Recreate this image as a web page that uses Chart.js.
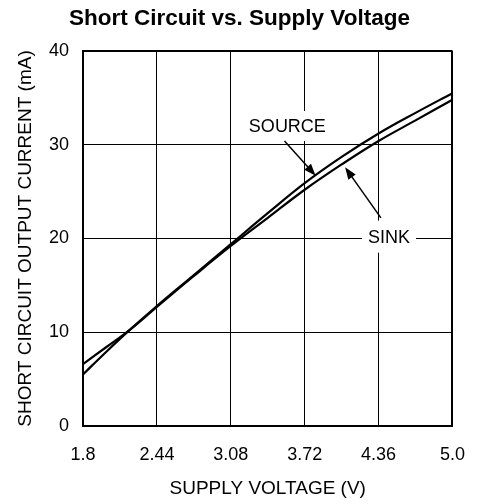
<!DOCTYPE html>
<html>
<head>
<meta charset="utf-8">
<script src="https://cdn.jsdelivr.net/npm/chart.js@4/dist/chart.umd.min.js"></script>
<style>
html,body{margin:0;padding:0;background:#fff;}
#wrap{width:483px;height:504px;}
</style>
</head>
<body>
<div id="wrap"><canvas id="c" width="483" height="504"></canvas></div>
<script>
const voltages = [1.8, 2.0, 2.2, 2.44, 2.76, 3.08, 3.4, 3.72, 4.04, 4.36, 4.68, 5.0];
const sourceCurrent = [5.5, 7.9, 10.2, 12.8, 16.1, 19.4, 22.7, 25.9, 28.7, 31.2, 33.4, 35.5];
const sinkCurrent   = [6.6, 8.4, 10.2, 12.7, 16.0, 19.2, 22.2, 25.2, 27.9, 30.4, 32.6, 34.8];
const xTickValues = [1.8, 2.44, 3.08, 3.72, 4.36, 5.0];
const xTickLabels = ["1.8", "2.44", "3.08", "3.72", "4.36", "5.0"];
const yTickValues = [0, 10, 20, 30, 40];
const yTickLabels = ["0", "10", "20", "30", "40"];

const FONT = "'Liberation Sans', Arial, Helvetica, sans-serif";

const annotations = [
  {text: "SOURCE", x: 3.57, y: 32.0, box: {w: 90, h: 30}, arrow: {from: [3.545, 30.4], to: [3.815, 26.7]}},
  {text: "SINK", x: 4.45, y: 20.2, box: {w: 54, h: 32}, arrow: {from: [4.38, 22.2], to: [4.07, 27.6]}}
];

const annoPlugin = {
  id: 'annoPlugin',
  beforeDatasetsDraw(chart) {
    const {ctx, scales: {x, y}} = chart;
    ctx.save();
    ctx.font = "18px " + FONT;
    ctx.textAlign = 'center';
    ctx.textBaseline = 'middle';
    annotations.forEach(a => {
      const px = x.getPixelForValue(a.x), py = y.getPixelForValue(a.y);
      ctx.fillStyle = '#fff';
      ctx.fillRect(px - a.box.w / 2, py - a.box.h / 2, a.box.w, a.box.h);
      ctx.fillStyle = '#000';
      ctx.fillText(a.text, px, py + 1);
      const x1 = x.getPixelForValue(a.arrow.from[0]), y1 = y.getPixelForValue(a.arrow.from[1]);
      const x2 = x.getPixelForValue(a.arrow.to[0]), y2 = y.getPixelForValue(a.arrow.to[1]);
      const ang = Math.atan2(y2 - y1, x2 - x1);
      const hl = 12, hw = 4.5;
      ctx.strokeStyle = '#000';
      ctx.lineWidth = 1.5;
      ctx.beginPath();
      ctx.moveTo(x1, y1);
      ctx.lineTo(x2 - Math.cos(ang) * hl * 0.8, y2 - Math.sin(ang) * hl * 0.8);
      ctx.stroke();
      ctx.beginPath();
      ctx.moveTo(x2, y2);
      ctx.lineTo(x2 - Math.cos(ang) * hl - Math.sin(ang) * hw, y2 - Math.sin(ang) * hl + Math.cos(ang) * hw);
      ctx.lineTo(x2 - Math.cos(ang) * hl + Math.sin(ang) * hw, y2 - Math.sin(ang) * hl - Math.cos(ang) * hw);
      ctx.closePath();
      ctx.fill();
    });
    ctx.restore();
  }
};

new Chart(document.getElementById('c'), {
  type: 'line',
  data: {
    datasets: [
      {label: 'SOURCE', data: voltages.map((v, i) => ({x: v, y: sourceCurrent[i]})), borderColor: '#000', borderWidth: 2.2, pointRadius: 0, tension: 0.4, fill: false},
      {label: 'SINK', data: voltages.map((v, i) => ({x: v, y: sinkCurrent[i]})), borderColor: '#000', borderWidth: 2.2, pointRadius: 0, tension: 0.4, fill: false}
    ]
  },
  options: {
    responsive: false,
    animation: false,
    devicePixelRatio: 1,
    layout: {padding: {left: 11, right: 15, top: 0, bottom: 0}},
    plugins: {
      legend: {display: false},
      tooltip: {enabled: false},
      title: {
        display: true,
        text: 'Short Circuit vs. Supply Voltage',
        color: '#000',
        font: {family: FONT, size: 22.5, weight: 'bold', lineHeight: 1.2},
        padding: {top: 5, bottom: 19}
      }
    },
    scales: {
      x: {
        type: 'linear',
        min: 1.8, max: 5.0,
        afterBuildTicks: s => { s.ticks = xTickValues.map(v => ({value: v})); },
        afterFit: s => { s.height = 78; },
        ticks: {
          color: '#000', padding: 18, maxRotation: 0, autoSkip: false,
          font: {family: FONT, size: 18},
          callback: (v) => { const i = xTickValues.indexOf(v); return i >= 0 ? xTickLabels[i] : ''; }
        },
        grid: {color: '#000', lineWidth: c => (c.tick && c.tick.value === 5.0 ? 2 : 1), drawTicks: false},
        border: {color: '#000', width: 2},
        title: {display: true, text: 'SUPPLY VOLTAGE (V)', color: '#000', font: {family: FONT, size: 19, lineHeight: 1.2}, padding: {top: 0, bottom: 4}}
      },
      y: {
        type: 'linear',
        min: 0, max: 40,
        afterBuildTicks: s => { s.ticks = yTickValues.map(v => ({value: v})); },
        afterFit: s => { s.width = 72; },
        ticks: {
          color: '#000', padding: 14,
          font: {family: FONT, size: 18},
          callback: (v) => { const i = yTickValues.indexOf(v); return i >= 0 ? yTickLabels[i] : ''; }
        },
        grid: {color: '#000', lineWidth: c => (c.tick && c.tick.value === 40 ? 2 : 1), drawTicks: false},
        border: {color: '#000', width: 2},
        title: {display: true, text: 'SHORT CIRCUIT OUTPUT CURRENT (mA)', color: '#000', font: {family: FONT, size: 19, lineHeight: 1.2}, padding: {top: 3, bottom: 0}}
      }
    }
  },
  plugins: [annoPlugin]
});
</script>
</body>
</html>
